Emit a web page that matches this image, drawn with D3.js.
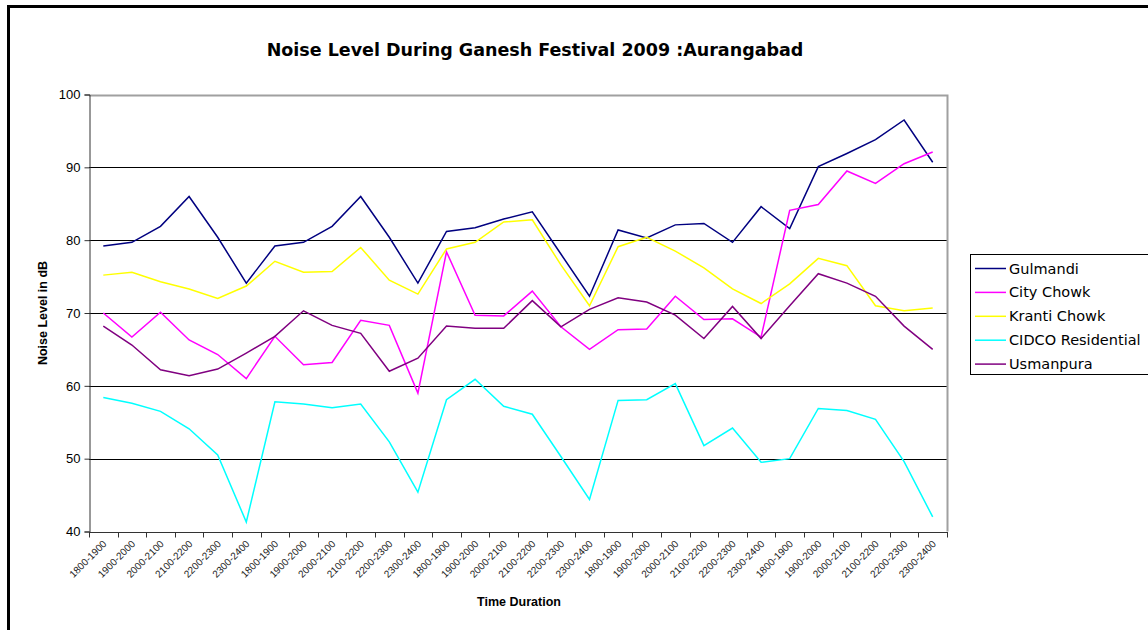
<!DOCTYPE html>
<html>
<head>
<meta charset="utf-8">
<script src="https://cdn.jsdelivr.net/npm/d3@7"></script>
<style>
  body { margin: 0; background: #fff; }
  svg { display: block; }
</style>
</head>
<body>
<div id="root"></div>
<script>
const w = 1148;
const h = 630;

const hours = ["1800-1900", "1900-2000", "2000-2100", "2100-2200", "2200-2300", "2300-2400"];
// five days of the festival, same six slots each
const categories = [].concat(hours, hours, hours, hours, hours);

const yTicks = [40, 50, 60, 70, 80, 90, 100];

const seriesNames = ["Gulmandi", "City Chowk", "Kranti Chowk", "CIDCO Residential", "Usmanpura"];
const seriesColors = ["#000080", "#ff00ff", "#ffff00", "#00ffff", "#800080"];

const gulmandi = [79.2, 79.7, 81.9, 86.0, 80.4, 74.1, 79.2, 79.7, 81.9, 86.0,
  80.4, 74.1, 81.2, 81.7, 82.9, 83.9, 78.1, 72.3, 81.4, 80.3,
  82.1, 82.3, 79.7, 84.6, 81.6, 90.1, 91.9, 93.8, 96.5, 90.7];
const cityChowk = [70.0, 66.7, 70.1, 66.3, 64.3, 61.0, 66.8, 62.9, 63.2, 69.0,
  68.3, 59.0, 78.4, 69.7, 69.6, 73.0, 68.1, 65.0, 67.7, 67.8,
  72.3, 69.1, 69.2, 66.7, 84.1, 84.9, 89.5, 87.8, 90.5, 92.1];
const krantiChowk = [75.2, 75.6, 74.3, 73.3, 72.0, 73.7, 77.1, 75.6, 75.7, 79.0,
  74.5, 72.6, 78.8, 79.7, 82.5, 82.8, 76.6, 71.0, 79.1, 80.4,
  78.5, 76.2, 73.3, 71.3, 74.0, 77.5, 76.5, 71.0, 70.3, 70.7];
const cidco = [58.4, 57.6, 56.5, 54.1, 50.5, 41.3, 57.8, 57.5, 57.0, 57.5,
  52.3, 45.4, 58.1, 60.9, 57.2, 56.1, 50.3, 44.4, 58.0, 58.1,
  60.3, 51.8, 54.2, 49.5, 50.0, 56.9, 56.6, 55.4, 49.6, 42.0];
const usmanpura = [68.2, 65.6, 62.2, 61.4, 62.3, 64.5, 66.8, 70.3, 68.3, 67.2,
  62.0, 63.8, 68.2, 67.9, 67.9, 71.7, 68.1, 70.5, 72.1, 71.5,
  69.7, 66.5, 70.9, 66.5, 71.0, 75.4, 74.1, 72.3, 68.2, 65.0];

const seriesValues = [gulmandi, cityChowk, krantiChowk, cidco, usmanpura];

const plotLeft = 89;
const plotRight = 947;
const plotTop = 94.5;
const plotBottom = 531.5;

const svg = d3.select("#root")
    .append("svg")
    .attr("width", w)
    .attr("height", h);

// outer chart frame (runs off the right and bottom of the picture)
svg.append("rect")
    .attr("x", 8.5)
    .attr("y", 6.5)
    .attr("width", w + 20)
    .attr("height", h + 20)
    .attr("fill", "#fff")
    .attr("stroke", "#000")
    .attr("stroke-width", 3);

const xScale = d3.scaleBand()
    .domain(d3.range(categories.length))
    .range([plotLeft, plotRight]);

const yScale = d3.scaleLinear()
    .domain([40, 100])
    .range([plotBottom, plotTop]);

const xc = i => xScale(i) + xScale.bandwidth() / 2;

// title
svg.append("text")
    .attr("x", 535)
    .attr("y", 56)
    .attr("text-anchor", "middle")
    .style("font-family", "'DejaVu Sans', sans-serif")
    .style("font-weight", "bold")
    .style("font-size", "17.5px")
    .text("Noise Level During Ganesh Festival 2009 :Aurangabad");

// gridlines
svg.append("g")
    .selectAll("line")
    .data(yTicks.filter(d => d > 40 && d < 100))
    .enter()
    .append("line")
    .attr("x1", plotLeft)
    .attr("x2", plotRight)
    .attr("y1", d => Math.round(yScale(d)) + 0.5)
    .attr("y2", d => Math.round(yScale(d)) + 0.5)
    .attr("stroke", "#000")
    .attr("stroke-width", 1);

// plot area border (top and right, grey)
svg.append("path")
    .attr("d", "M" + plotLeft + "," + (Math.round(plotTop) + 0.5) + "H" + (plotRight + 0.5) + "V" + plotBottom)
    .attr("fill", "none")
    .attr("stroke", "#a0a0a0")
    .attr("stroke-width", 2);

// y-axis
const yAxis = d3.axisLeft(yScale).tickValues(yTicks).tickSize(5).tickPadding(4);
const gy = svg.append("g")
    .attr("transform", "translate(" + (plotLeft + 0.5) + ",0)")
    .call(yAxis);
gy.select(".domain").attr("stroke", "#333");
gy.selectAll(".tick line").attr("stroke", "#333");
gy.selectAll("text")
    .style("font-family", "'Liberation Sans', Arial, sans-serif")
    .style("font-size", "13px")
    .attr("fill", "#000");

// x-axis: ticks between categories
const gx = svg.append("g")
    .attr("transform", "translate(0," + (Math.round(plotBottom) + 0.5) + ")");
gx.append("line")
    .attr("x1", plotLeft)
    .attr("x2", plotRight + 1)
    .attr("stroke", "#333");
gx.selectAll("line.tk")
    .data(d3.range(categories.length + 1))
    .enter()
    .append("line")
    .attr("class", "tk")
    .attr("x1", d => Math.round(plotLeft + d * xScale.step()) + 0.5)
    .attr("x2", d => Math.round(plotLeft + d * xScale.step()) + 0.5)
    .attr("y1", 0)
    .attr("y2", 5)
    .attr("stroke", "#333");
gx.selectAll("text")
    .data(categories)
    .enter()
    .append("text")
    .attr("transform", (d, i) => "translate(" + (xc(i) + 4) + ",12) rotate(-45)")
    .attr("text-anchor", "end")
    .style("font-family", "'Liberation Sans', Arial, sans-serif")
    .style("font-size", "10px")
    .attr("fill", "#222")
    .text(d => d);

// axis titles
svg.append("text")
    .attr("x", 519)
    .attr("y", 606)
    .attr("text-anchor", "middle")
    .style("font-family", "'Liberation Sans', Arial, sans-serif")
    .style("font-weight", "bold")
    .style("font-size", "12.5px")
    .text("Time Duration");

svg.append("text")
    .attr("transform", "translate(47," + ((plotTop + plotBottom) / 2) + ") rotate(-90)")
    .attr("text-anchor", "middle")
    .style("font-family", "'Liberation Sans', Arial, sans-serif")
    .style("font-weight", "bold")
    .style("font-size", "12.5px")
    .text("Noise Level in dB");

// lines
const line = d3.line()
    .x((d, i) => xc(i))
    .y(d => yScale(d));

svg.append("g")
    .selectAll("path")
    .data(seriesValues)
    .enter()
    .append("path")
    .attr("d", d => line(d))
    .attr("fill", "none")
    .attr("stroke", (d, i) => seriesColors[i])
    .attr("stroke-width", 1.5);

// legend
const legend = svg.append("g");
legend.append("rect")
    .attr("x", 970.5)
    .attr("y", 254.5)
    .attr("width", 200)
    .attr("height", 120)
    .attr("fill", "#fff")
    .attr("stroke", "#000")
    .attr("stroke-width", 1);

const items = legend.selectAll("g.item")
    .data(seriesNames)
    .enter()
    .append("g")
    .attr("class", "item")
    .attr("transform", (d, i) => "translate(0," + (268.5 + i * 23.9) + ")");
items.append("line")
    .attr("x1", 975)
    .attr("x2", 1006)
    .attr("stroke", (d, i) => seriesColors[i])
    .attr("stroke-width", 1.5);
items.append("text")
    .attr("x", 1009)
    .attr("y", 5)
    .style("font-family", "'DejaVu Sans', sans-serif")
    .style("font-size", "14.5px")
    .text(d => d);
</script>
</body>
</html>
